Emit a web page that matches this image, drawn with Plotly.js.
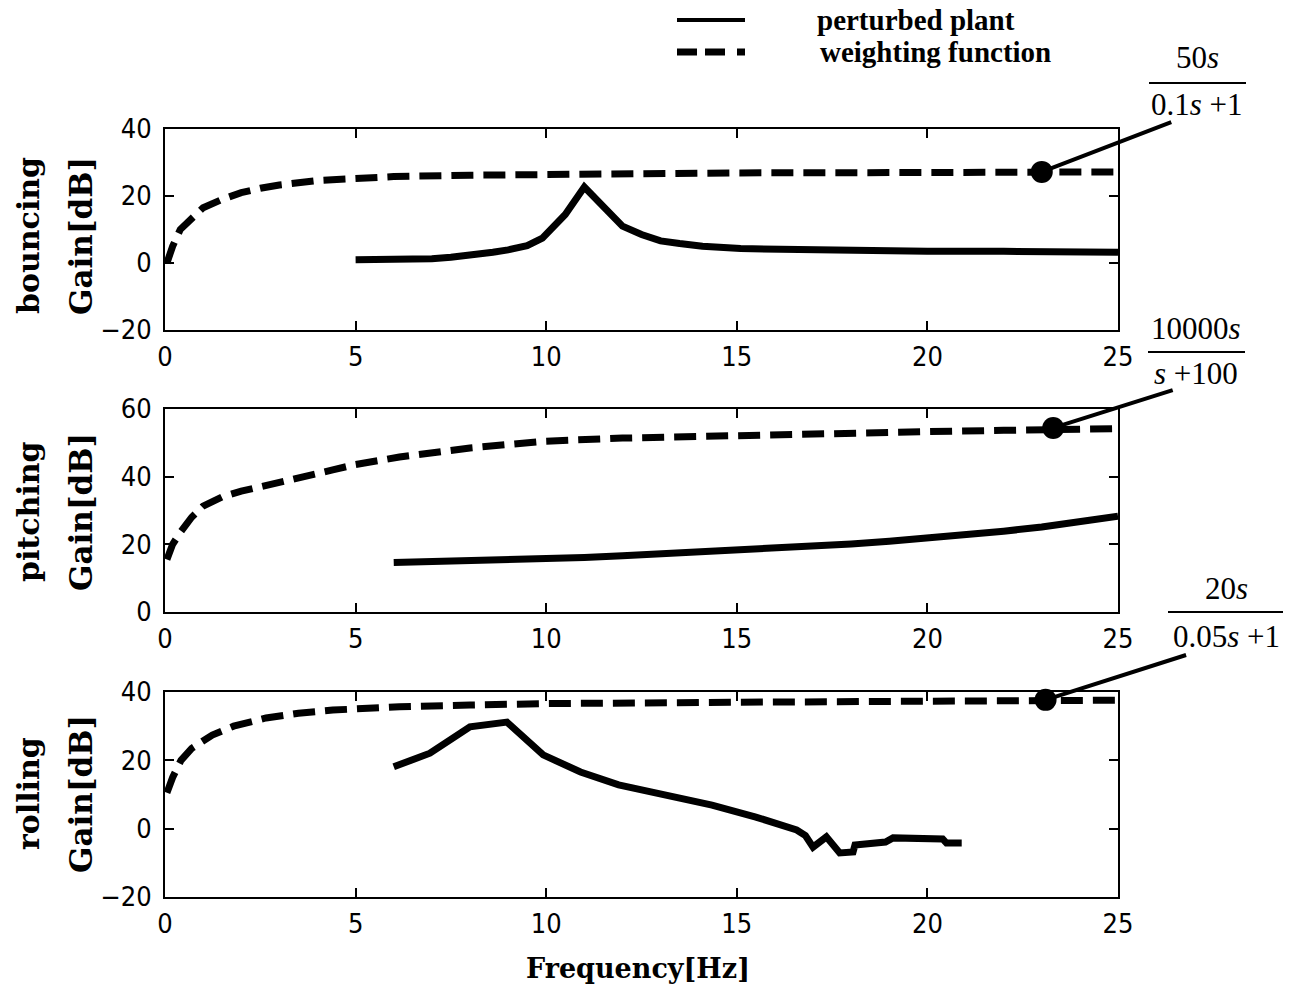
<!DOCTYPE html>
<html>
<head>
<meta charset="utf-8">
<script src="https://cdn.plot.ly/plotly-3.0.1.min.js"></script>
<style>
  html, body { margin: 0; padding: 0; background: #fff; }
  #chart { width: 1301px; height: 988px; }
</style>
</head>
<body>
<div id="chart"></div>
<script>
// Bouncing mode
const bounceWeightFreq = [0.05, 0.2, 0.4, 0.7, 1, 1.5, 2, 2.5, 3, 4, 5, 6, 8, 10, 12, 15, 20, 25];
const bounceWeightGain = [0, 5, 10, 13.5, 16.5, 19, 21, 22.3, 23.3, 24.6, 25.3, 25.8, 26.2, 26.5, 26.7, 26.9, 27.0, 27.2];
const bouncePlantFreq = [5, 6, 7, 7.5, 8, 8.6, 9, 9.5, 9.9, 10.5, 11, 11.5, 12, 12.5, 13, 13.5, 14.1, 15.1, 16, 17, 17.5, 18, 20, 22, 24, 25];
const bouncePlantGain = [1.0, 1.0, 1.3, 1.7, 2.2, 3.2, 3.9, 5.2, 7.4, 14.5, 22.7, 16.5, 11.0, 8.5, 6.6, 5.8, 5.0, 4.3, 4.1, 3.9, 3.6, 3.5, 3.5, 3.5, 3.4, 3.2];

// Pitching mode
const pitchWeightFreq = [0.05, 0.2, 0.4, 0.7, 1, 1.5, 2, 2.65, 3, 4, 4.4, 5, 6.15, 8, 10, 12, 15, 18, 20, 22, 25];
const pitchWeightGain = [15.5, 20, 23.5, 28, 31.3, 34, 35.7, 37.5, 38.6, 41, 42, 43.6, 45.8, 48.5, 50.5, 51.4, 52.3, 53.0, 53.3, 53.7, 54.2];
const pitchPlantFreq = [6, 7, 8, 9, 10, 11, 12, 13, 14, 15, 16, 17, 18, 19, 20, 21, 22, 23, 24, 25];
const pitchPlantGain = [14.6, 14.8, 15.0, 15.3, 15.7, 16.1, 16.6, 17.1, 17.6, 18.2, 18.8, 19.4, 20.1, 20.9, 21.8, 22.8, 23.9, 25.1, 26.5, 28.3];

// Rolling mode
const rollWeightFreq = [0.05, 0.2, 0.42, 0.7, 1.24, 1.8, 2.65, 3.5, 4.4, 5, 6.15, 8, 10, 15, 20, 25];
const rollWeightGain = [10.5, 15, 20, 23.5, 27.4, 30.0, 32.4, 33.8, 34.7, 35.2, 35.7, 36.2, 36.6, 37.0, 37.3, 37.6];
const rollPlantFreq = [6, 6.95, 8.0, 8.97, 9.92, 10.9, 11.9, 13.05, 14.35, 15.5, 16.57, 16.8, 17.0, 17.35, 17.7, 18.05, 18.1, 18.9, 19.1, 20.4, 20.5, 20.9];
const rollPlantGain = [18.1, 22.1, 29.8, 31.2, 21.6, 16.6, 12.8, 9.9, 6.9, 3.4, -0.4, -2.0, -5.4, -2.4, -7.1, -6.8, -4.8, -3.9, -2.7, -3.0, -4.2, -4.2];

// Weighting-function callout points
const calloutFreq = [23.0, 23.3, 23.1];
const calloutGain = [27.2, 54.4, 37.7];

// Axis ticks
const freqTicks = [0, 5, 10, 15, 20, 25];
const bounceTicks = [-20, 0, 20, 40];
const pitchTicks = [0, 20, 40, 60];
const rollTicks = [-20, 0, 20, 40];

const W = 1301, H = 988;
const px = v => v / W;
const py = v => 1 - v / H;

const tickFont = { family: 'Liberation Sans Narrow, DejaVu Sans Condensed, Arial Narrow, sans-serif', size: 27, color: '#000' };
const labelFont = { family: 'DejaVu Serif, serif', size: 30, color: '#000', weight: 'bold' };
const mathFont = { family: 'Liberation Serif, Times New Roman, serif', size: 31, color: '#000' };
const legendFont = { family: 'Liberation Serif, Times New Roman, serif', size: 29, color: '#000', weight: 'bold' };

const solid = { color: '#000', width: 7 };
const dashed = { color: '#000', width: 7, dash: '22px,10px' };

const traces = [
  { x: bounceWeightFreq, y: bounceWeightGain, xaxis: 'x', yaxis: 'y', mode: 'lines', line: dashed },
  { x: bouncePlantFreq, y: bouncePlantGain, xaxis: 'x', yaxis: 'y', mode: 'lines', line: solid },
  { x: pitchWeightFreq, y: pitchWeightGain, xaxis: 'x2', yaxis: 'y2', mode: 'lines', line: dashed },
  { x: pitchPlantFreq, y: pitchPlantGain, xaxis: 'x2', yaxis: 'y2', mode: 'lines', line: solid },
  { x: rollWeightFreq, y: rollWeightGain, xaxis: 'x3', yaxis: 'y3', mode: 'lines', line: dashed },
  { x: rollPlantFreq, y: rollPlantGain, xaxis: 'x3', yaxis: 'y3', mode: 'lines', line: solid },
  { x: [calloutFreq[0]], y: [calloutGain[0]], xaxis: 'x', yaxis: 'y', mode: 'markers', marker: { color: '#000', size: 22 }, cliponaxis: false },
  { x: [calloutFreq[1]], y: [calloutGain[1]], xaxis: 'x2', yaxis: 'y2', mode: 'markers', marker: { color: '#000', size: 22 }, cliponaxis: false },
  { x: [calloutFreq[2]], y: [calloutGain[2]], xaxis: 'x3', yaxis: 'y3', mode: 'markers', marker: { color: '#000', size: 22 }, cliponaxis: false }
];
traces.forEach(t => { t.showlegend = false; t.hoverinfo = 'skip'; });

function xAxis(anchor) {
  return {
    domain: [px(165), px(1118)], anchor: anchor, range: [0, 25],
    tickvals: freqTicks, ticktext: freqTicks.map(String),
    ticks: 'inside', ticklen: 9, tickwidth: 2, tickcolor: '#000',
    showline: true, linecolor: '#000', linewidth: 2, mirror: 'ticks',
    showgrid: false, zeroline: false, tickfont: tickFont, ticklabelstandoff: 2
  };
}
function yAxis(anchor, top, bottom, range, ticks) {
  return {
    domain: [py(bottom), py(top)], anchor: anchor, range: range,
    tickvals: ticks, ticktext: ticks.map(v => v < 0 ? '\u2212' + Math.abs(v) : String(v)),
    ticks: 'inside', ticklen: 9, tickwidth: 2, tickcolor: '#000',
    showline: true, linecolor: '#000', linewidth: 2, mirror: 'ticks',
    showgrid: false, zeroline: false, tickfont: tickFont, ticklabelstandoff: 6
  };
}

const annotations = [];
const shapes = [];

// Rotated two-line axis labels
function sideLabel(name, centerY) {
  annotations.push({ xref: 'paper', yref: 'paper', x: px(28), y: py(centerY), text: name, textangle: -90,
    showarrow: false, xanchor: 'center', yanchor: 'middle', font: labelFont });
  annotations.push({ xref: 'paper', yref: 'paper', x: px(81), y: py(centerY), text: 'Gain[dB]', textangle: -90,
    showarrow: false, xanchor: 'center', yanchor: 'middle', font: Object.assign({}, labelFont, { size: 31 }) });
}
sideLabel('bouncing', 236);
sideLabel('pitching', 512);
sideLabel('rolling', 794);

annotations.push({ xref: 'paper', yref: 'paper', x: px(638), y: py(968), text: 'Frequency[Hz]', showarrow: false,
  xanchor: 'center', yanchor: 'middle', font: Object.assign({}, labelFont, { size: 27 }) });

// Legend
shapes.push({ type: 'line', xref: 'paper', yref: 'paper', x0: px(677), x1: px(745), y0: py(20), y1: py(20), line: { color: '#000', width: 4 } });
shapes.push({ type: 'line', xref: 'paper', yref: 'paper', x0: px(677), x1: px(745), y0: py(52), y1: py(52), line: { color: '#000', width: 7, dash: '20px,8px,20px,12px,8px,200px' } });
annotations.push({ xref: 'paper', yref: 'paper', x: px(815), y: py(20), text: 'perturbed plant', showarrow: false, xanchor: 'left', yanchor: 'middle', font: legendFont });
annotations.push({ xref: 'paper', yref: 'paper', x: px(818), y: py(52), text: 'weighting function', showarrow: false, xanchor: 'left', yanchor: 'middle', font: legendFont });

// Transfer-function labels
function fraction(num, den, cx, numY, barY, denY, barX0, barX1) {
  annotations.push({ xref: 'paper', yref: 'paper', x: px(cx), y: py(numY), text: num, showarrow: false, xanchor: 'center', yanchor: 'middle', font: mathFont });
  annotations.push({ xref: 'paper', yref: 'paper', x: px(cx), y: py(denY), text: den, showarrow: false, xanchor: 'center', yanchor: 'middle', font: mathFont });
  shapes.push({ type: 'line', xref: 'paper', yref: 'paper', x0: px(barX0), x1: px(barX1), y0: py(barY), y1: py(barY), line: { color: '#000', width: 2 } });
}
fraction('50<i>s</i>', '0.1<i>s</i> +1', 1197, 58, 83, 104, 1149, 1246);
fraction('10000<i>s</i>', '<i>s</i> +100', 1196, 329, 352, 373, 1148, 1245);
fraction('20<i>s</i>', '0.05<i>s</i> +1', 1226, 588, 612, 636, 1168, 1283);

// Leader lines from callout points toward the labels
function leader(xr, yr, i, dx, dy) {
  annotations.push({ xref: xr, yref: yr, x: calloutFreq[i], y: calloutGain[i], text: ' ',
    showarrow: true, arrowhead: 0, arrowwidth: 4, arrowcolor: '#000', standoff: 0, startstandoff: 0,
    ax: dx, ay: -dy, borderpad: 0, font: { size: 1 } });
}
leader('x', 'y', 0, 130, 50);
leader('x2', 'y2', 1, 120, 38);
leader('x3', 'y3', 2, 141, 45);

const layout = {
  width: W, height: H,
  margin: { l: 0, r: 0, t: 0, b: 0 },
  paper_bgcolor: '#fff', plot_bgcolor: '#fff',
  showlegend: false,
  xaxis: xAxis('y'), yaxis: yAxis('x', 129, 330, [-20, 40], bounceTicks),
  xaxis2: xAxis('y2'), yaxis2: yAxis('x2', 409, 612, [0, 60], pitchTicks),
  xaxis3: xAxis('y3'), yaxis3: yAxis('x3', 692, 897, [-20, 40], rollTicks),
  annotations: annotations,
  shapes: shapes
};

Plotly.newPlot('chart', traces, layout, { staticPlot: true, displayModeBar: false });
</script>
</body>
</html>
